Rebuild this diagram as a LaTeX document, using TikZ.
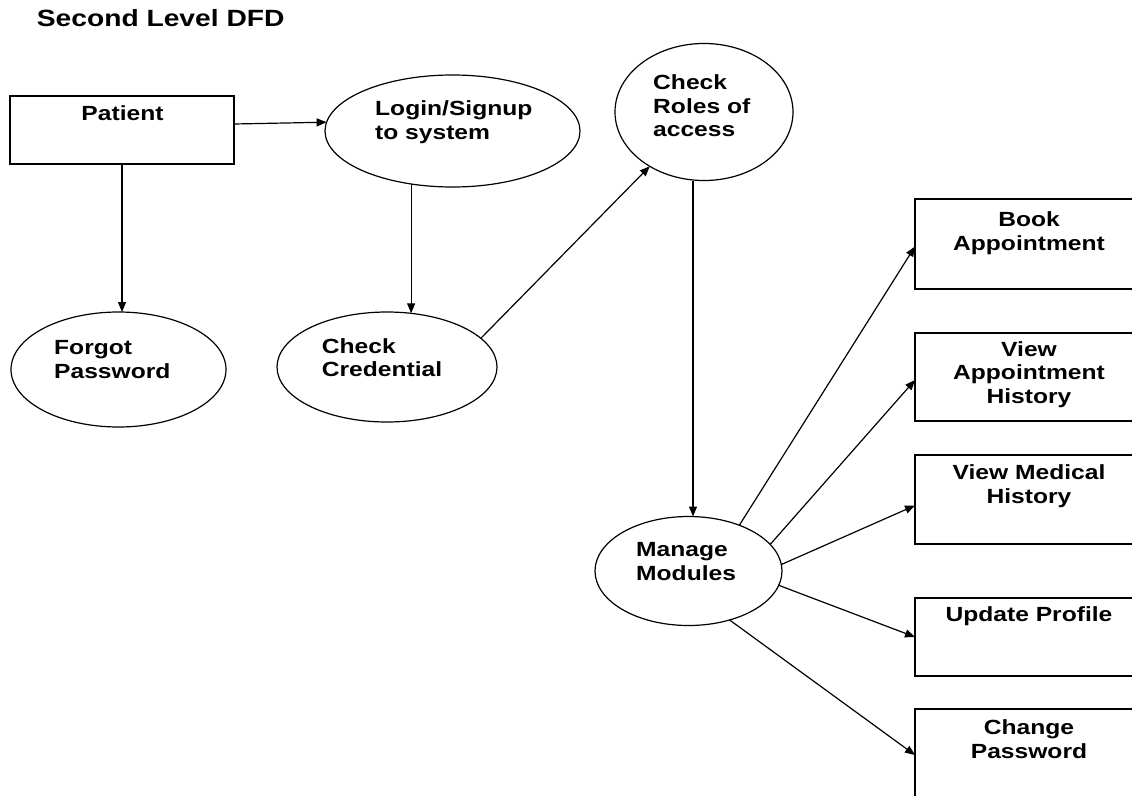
\documentclass[tikz,border=0pt]{standalone}
\usepackage{fontspec}
\setmainfont{Liberation Sans}[FakeStretch=1.2]
\usetikzlibrary{shapes.geometric,arrows.meta}
\tikzset{
  shp/.style={draw=black, line width=1.2pt, inner sep=0pt, outer sep=0pt},
  proc/.style={shp, ellipse},
  ent/.style={shp, rectangle},
  lbl/.style={inner sep=0pt, font=\bfseries\fontsize{20.5pt}{23.5pt}\selectfont},
  lbll/.style={lbl, anchor=base west, align=left},
  lblc/.style={lbl, anchor=base, align=center},
  flow/.style={line width=1.2pt, -{Triangle[length=10pt,width=8pt]}},
}
\begin{document}
\begin{tikzpicture}[x=1pt,y=-1pt]
\useasboundingbox (0,0) rectangle (1132,795);
\clip (0,0) rectangle (1132,795);

% title
\node[anchor=base west, inner sep=0pt, font=\bfseries\fontsize{23.5pt}{28pt}\selectfont] (title) at (36.7,26.7) {Second Level DFD};

% shapes
\node[ent, minimum width=224pt, minimum height=68pt] (pat) at (122,130) {};
\node[proc, minimum width=255pt, minimum height=112pt] (login) at (452.5,131) {};
\node[proc, minimum width=178pt, minimum height=137pt] (roles) at (704,112) {};
\node[proc, minimum width=215pt, minimum height=115pt] (forgot) at (118.5,369.5) {};
\node[proc, minimum width=220pt, minimum height=110pt] (cred) at (387,367) {};
\node[proc, minimum width=187pt, minimum height=109pt] (manage) at (688.5,571) {};

\node[ent, minimum width=228pt, minimum height=90pt] (book) at (1029,244) {};
\node[ent, minimum width=228pt, minimum height=88pt] (va) at (1029,377) {};
\node[ent, minimum width=228pt, minimum height=89pt] (vm) at (1029,499.5) {};
\node[ent, minimum width=228pt, minimum height=78pt] (up) at (1029,637) {};
\node[ent, minimum width=228pt, minimum height=90pt] (cp) at (1029,754) {};

% labels (anchor = baseline of the last line)
\node[lblc] (pat-t) at (122.5,120.7) {Patient};
\node[lbll] (login-t) at (375,139) {Login/Signup\\to system};
\node[lbll] (roles-t) at (653,136.7) {Check\\Roles of\\access};
\node[lbll] (forgot-t) at (54,378) {Forgot\\Password};
\node[lbll] (cred-t) at (321.7,376.7) {Check\\Credential};
\node[lbll] (manage-t) at (636,580) {Manage\\Modules};
\node[lblc] (book-t) at (1029,250) {Book\\Appointment};
\node[lblc] (va-t) at (1029,403.3) {View\\Appointment\\History};
\node[lblc] (vm-t) at (1029,503.3) {View Medical\\History};
\node[lblc] (up-t) at (1029,621.7) {Update Profile};
\node[lblc] (cp-t) at (1029,758.3) {Change\\Password};

% connectors
\draw[flow] ([yshift=6pt]pat.east) -- (login.176);
\draw[flow] (pat.south) -- (pat.south |- forgot.north);
\draw[flow] (login.-128.8) -- (login.-128.8 |- cred.66.8);
\draw[flow] (cred.17) -- (roles.225.8);
\draw[flow] ([xshift=-11pt]roles.south) -- ([xshift=-11pt]roles.south |- manage.north);
\draw[flow] (manage.42) -- ([yshift=-2.5pt]book.west);
\draw[flow] (manage.18) -- ([yshift=-3pt]va.west);
\draw[flow] (manage.4) -- ([yshift=-6pt]vm.west);
\draw[flow] (manage.-9) -- (up.west);
\draw[flow] (manage.-50) -- ([yshift=-1pt]cp.west);
\end{tikzpicture}
\end{document}
